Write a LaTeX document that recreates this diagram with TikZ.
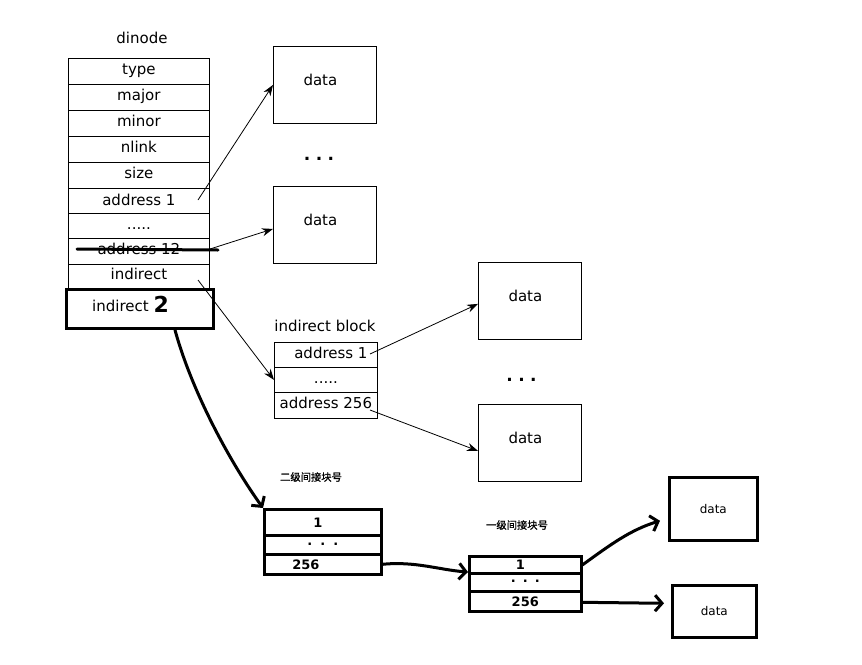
\documentclass[tikz,border=0pt]{standalone}
\usepackage{fontspec}
\setmainfont{DejaVu Sans}
\newfontfamily\cjk[FakeBold=1.2]{Noto Sans CJK SC}
\usetikzlibrary{arrows.meta,calc}
\begin{document}
\begin{tikzpicture}[x=1pt,y=-1pt,
  txt/.style={font=\fontsize{15}{17}\selectfont, inner sep=0pt, text height=10.5pt, text depth=3.5pt},
  dcell/.style={txt, draw, line width=0.8pt, minimum width=141pt, anchor=north west},
  icell/.style={txt, draw, line width=0.8pt, minimum width=103pt, anchor=north west},
  dbox/.style={txt, draw, line width=0.8pt, minimum width=103pt, minimum height=77pt, anchor=north west},
  hcell/.style={draw, line width=2.6pt, inner sep=0pt, anchor=north west, font=\bfseries\fontsize{13}{15}\selectfont},
  hbox/.style={draw, line width=2.6pt, inner sep=0pt, anchor=north west, font=\fontsize{12}{14}\selectfont},
  thinarrow/.style={line width=0.8pt, -{Stealth[length=11pt,width=8pt]}},
  thickarrow/.style={line width=3pt, line cap=round, -{Straight Barb[length=7pt,width=16pt,line width=3pt]}},
  lab/.style={font=\cjk\fontsize{10.3}{12}\selectfont, inner sep=0pt},
  vdots/.style={font=\bfseries\fontsize{17}{17}\selectfont, inner sep=0pt},
]
\useasboundingbox (0,0) rectangle (862,664);

% dinode table
\node[txt] (title) at (142,40) {dinode};
\node[dcell, minimum height=26pt] (type)  at (68,58)  {type};
\node[dcell, minimum height=26pt] (major) at (68,84)  {major};
\node[dcell, minimum height=26pt] (minor) at (68,110) {minor};
\node[dcell, minimum height=26pt] (nlink) at (68,136) {nlink};
\node[dcell, minimum height=26pt] (size)  at (68,162) {size};
\node[dcell, minimum height=25pt] (a1)    at (68,188) {\raisebox{-1pt}{address 1}};
\node[dcell, minimum height=25pt] (dots)  at (68,213) {.....};
\node[dcell, minimum height=26pt] (a12)   at (68,238) {address 12};
\node[dcell, minimum height=24pt] (ind)   at (68,264) {indirect};
\node[draw, line width=2.6pt, inner sep=0pt, minimum width=147pt, minimum height=39pt, anchor=north west] (ind2) at (65,288) {};
\node[txt, anchor=west] (ind2t) at (92,308) {indirect \raisebox{-1pt}{\bfseries\fontsize{22}{22}\selectfont 2}};

% strike through address 12
\draw[line width=3pt, line cap=round] (77,249) -- (218,250);

% direct data boxes
\node[dbox] (d1) at (273,46) {\raisebox{3pt}{data}\hspace*{9pt}};
\node[vdots] (vd1) at (319,159) {.\hspace{5.5pt}.\hspace{5.5pt}.};
\node[dbox] (d2) at (273,186) {\raisebox{3pt}{data}\hspace*{9pt}};

% indirect block
\node[txt] (ibt) at (325,328) {indirect block};
\node[icell, minimum height=25pt] (ib1) at (274,342) {\hspace*{10pt}address 1};
\node[icell, minimum height=25pt] (ib2) at (274,367) {.....};
\node[icell, minimum height=26pt] (ib3) at (274,392) {address 256};

% data for indirect block
\node[dbox] (rd1) at (478,262) {\raisebox{3pt}{data}\hspace*{9pt}};
\node[vdots] (vd2) at (521.5,380) {.\hspace{5.5pt}.\hspace{5.5pt}.};
\node[dbox] (rd2) at (478,404) {\raisebox{3pt}{data}\hspace*{9pt}};

% thin arrows
\draw[thinarrow] (198,200) -- (d1.west);
\draw[thinarrow] (210,249) -- ($(d2.west)+(0,4)$);
\draw[thinarrow] (198,280) -- (ib2.west);
\draw[thinarrow] (370,354) -- ($(rd1.west)+(0,3)$);
\draw[thinarrow] (370,410) -- ($(rd2.west)+(0,8)$);

% double indirect
\node[lab] (l2) at (311,477) {二级间接块号};
\node[hcell, minimum width=117pt, minimum height=26pt] (e1) at (263,508) {\hspace*{-10pt}1};
\node[hcell, minimum width=117pt, minimum height=19pt] (e2) at (263,534) {\raisebox{2pt}{.\hspace{8pt}.\hspace{8pt}.}};
\node[hcell, minimum width=117pt, minimum height=20pt, text width=117pt, align=left] (e3) at (263,553) {\hspace*{28pt}256};

\node[lab] (l1) at (517,525) {一级间接块号};
\node[hcell, minimum width=112pt, minimum height=17pt] (s1) at (468,555) {\hspace*{-10pt}1};
\node[hcell, minimum width=112pt, minimum height=18pt] (s2) at (468,572) {\raisebox{2pt}{.\hspace{7pt}.\hspace{7pt}.}};
\node[hcell, minimum width=112pt, minimum height=20pt] (s3) at (468,590) {256};

\node[hbox, minimum width=88pt, minimum height=63pt] (ld1) at (668,476) {data};
\node[hbox, minimum width=84pt, minimum height=52pt] (ld2) at (671,584) {data};

% thick arrows
\draw[thickarrow] (175,330) .. controls (192,392) and (230,462) .. (e1.north west);
\draw[thickarrow] (e3.east) .. controls (415,561) and (440,570) .. (s2.north west);
\draw[thickarrow] (s1.east) .. controls (610,545) and (630,530) .. ($(ld1.west)+(-8,12)$);
\draw[thickarrow] ($(s3.east)+(0,1)$) -- ($(ld2.west)+(-7,-8)$);
\end{tikzpicture}
\end{document}
